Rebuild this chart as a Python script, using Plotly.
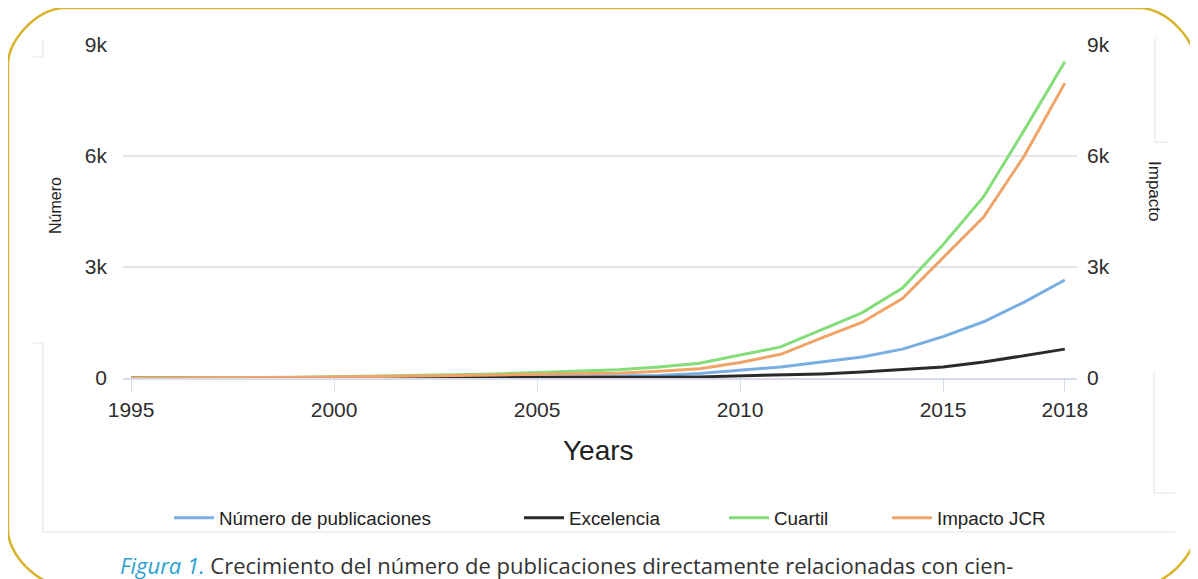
import plotly.graph_objects as go

# data
years = list(range(1995, 2019))
publicaciones = [0, 0, 0, 0, 5, 10, 12, 15, 18, 22, 30, 38, 50, 70, 120, 200,
                 300, 430, 570, 780, 1120, 1520, 2050, 2650]
excelencia = [0, 0, 0, 0, 0, 2, 3, 4, 5, 6, 8, 10, 14, 20, 30, 50,
              80, 110, 160, 220, 300, 430, 600, 780]
cuartil = [0, 0, 5, 10, 20, 35, 50, 65, 85, 110, 150, 185, 220, 300, 400, 620,
           840, 1300, 1760, 2430, 3600, 4900, 6700, 8550]
impacto = [0, 0, 5, 10, 15, 25, 35, 45, 60, 80, 100, 115, 130, 180, 250, 420,
           640, 1080, 1500, 2150, 3250, 4350, 6000, 7970]

x_ticks = [1995, 2000, 2005, 2010, 2015, 2018]
y_ticks = [0, 3000, 6000, 9000]
y_labels = ["0", "3k", "6k", "9k"]

series = [
    ("Número de publicaciones", publicaciones, "#78aee2", "y", "legend"),
    ("Excelencia", excelencia, "#2a2a2a", "y", "legend2"),
    ("Cuartil", cuartil, "#84dd78", "y2", "legend3"),
    ("Impacto JCR", impacto, "#f0a468", "y2", "legend4"),
]

# the page body adds an 8px margin, so the figure is drawn 8px smaller
OFF = 8
W, H = 1198 - OFF, 579 - OFF
L, R, T, B = 123, 1077, 45, 378  # plot area in page pixels


def px(x):
    return (x - L) / (R - L)


def py(y):
    return (B - y) / (B - T)


FONT = "Arial, Liberation Sans, sans-serif"

fig = go.Figure()
for name, vals, color, yax, leg in series:
    fig.add_trace(go.Scatter(
        x=years, y=vals, name=name, mode="lines", yaxis=yax, legend=leg,
        line=dict(color=color, width=3),
    ))

axis_common = dict(
    range=[0, 9000], tickvals=y_ticks, ticktext=y_labels,
    showgrid=True, gridcolor="#e6e6e6", gridwidth=2, zeroline=False,
    showline=False, ticks="",
    tickfont=dict(family=FONT, size=21, color="#2e2e2e"),
)

legend_common = dict(
    orientation="h", yanchor="middle", xanchor="left", y=py(518),
    font=dict(family=FONT, size=18.8, color="#222222"),
    bgcolor="rgba(0,0,0,0)", itemwidth=40,
)

# gold rounded frame
x0, y0, x1, y1, r = 8, 8, 1196, 586, 56
k = 0.45 * r
pts = [
    ("M", [(x0 + r, y0)]),
    ("L", [(x1 - r, y0)]),
    ("C", [(x1 - r + k, y0), (x1, y0 + r - k), (x1, y0 + r)]),
    ("L", [(x1, y1 - r)]),
    ("C", [(x1, y1 - r + k), (x1 - r + k, y1), (x1 - r, y1)]),
    ("L", [(x0 + r, y1)]),
    ("C", [(x0 + r - k, y1), (x0, y1 - r + k), (x0, y1 - r)]),
    ("L", [(x0, y0 + r)]),
    ("C", [(x0, y0 + r - k), (x0 + r - k, y0), (x0 + r, y0)]),
]
path = " ".join(cmd + " " + " ".join(f"{px(a):.5f},{py(b):.5f}" for a, b in p)
                for cmd, p in pts) + " Z"

shapes = [dict(type="path", path=path, xref="paper", yref="paper",
               line=dict(color="#d8b42c", width=2.5), layer="above")]

# faint screenshot guide lines
faint = [
    ((33, 57), (43, 57)), ((43, 40), (43, 57)),
    ((33, 343), (43, 343)), ((43, 343), (43, 532)),
    ((43, 532), (1175, 532)),
    ((1155, 38), (1155, 142)), ((1155, 142), (1168, 142)),
    ((1154, 372), (1154, 493)), ((1154, 493), (1175, 493)),
]
for (a, b), (c, d) in faint:
    shapes.append(dict(type="line", xref="paper", yref="paper",
                       x0=px(a), y0=py(b), x1=px(c), y1=py(d),
                       line=dict(color="#e2e2e2", width=1)))

annotations = [
    dict(text="Years", x=px(598), y=py(450), xref="paper", yref="paper",
         xanchor="center", yanchor="middle", showarrow=False,
         font=dict(family=FONT, size=28, color="#222222")),
    dict(text="Número", x=px(55), y=py(206), xref="paper", yref="paper",
         xanchor="center", yanchor="middle", textangle=-90, showarrow=False,
         font=dict(family=FONT, size=16, color="#222222")),
    dict(text="Impacto", x=px(1155), y=py(191), xref="paper", yref="paper",
         xanchor="center", yanchor="middle", textangle=90, showarrow=False,
         font=dict(family=FONT, size=17, color="#222222")),
    dict(text="<i><span style='color:#2aa0cf'>Figura 1.</span></i> "
              "Crecimiento del número de publicaciones directamente relacionadas con cien-",
         x=px(118), y=py(565), xref="paper", yref="paper", xanchor="left",
         yanchor="middle", showarrow=False,
         font=dict(family="Open Sans, sans-serif", size=22, color="#333333")),
]

fig.update_layout(
    width=W, height=H,
    margin=dict(l=L - OFF, r=1198 - R, t=T - OFF, b=579 - B),
    paper_bgcolor="white", plot_bgcolor="white",
    showlegend=True,
    xaxis=dict(
        range=[1994.8, 2018.3], tickvals=x_ticks,
        showgrid=False, zeroline=False, showline=True,
        linecolor="#d5dceb", linewidth=2,
        ticks="outside", ticklen=12, tickcolor="#d5dceb", tickwidth=1,
        tickfont=dict(family=FONT, size=21, color="#2e2e2e"),
    ),
    yaxis=dict(side="left", ticklabelstandoff=15, **axis_common),
    yaxis2=dict(side="right", overlaying="y", ticklabelstandoff=9, **axis_common),
    legend=dict(x=px(169), **legend_common),
    legend2=dict(x=px(519), **legend_common),
    legend3=dict(x=px(724), **legend_common),
    legend4=dict(x=px(887), **legend_common),
    shapes=shapes,
    annotations=annotations,
)

fig.write_html("out.html")
